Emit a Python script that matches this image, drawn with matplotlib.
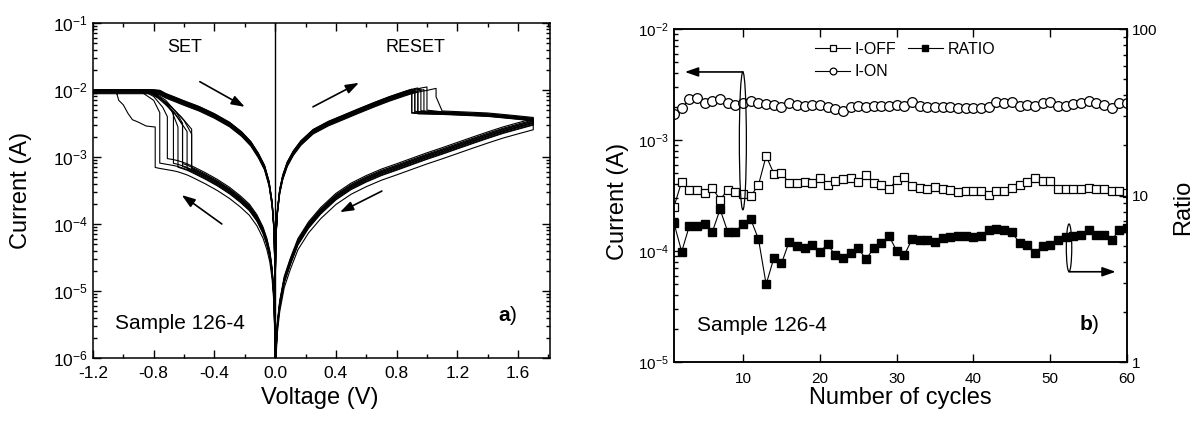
import numpy as np
import matplotlib
matplotlib.use("Agg")
import matplotlib.pyplot as plt
from matplotlib.patches import Ellipse
from matplotlib.ticker import LogLocator, MultipleLocator, NullFormatter, FormatStrFormatter

plt.rcParams['font.family'] = ['Liberation Sans', 'DejaVu Sans']
plt.rcParams['mathtext.fontset'] = 'custom'
plt.rcParams['mathtext.rm'] = 'Liberation Sans'
plt.rcParams['mathtext.it'] = 'Liberation Sans:italic'
plt.rcParams['mathtext.bf'] = 'Liberation Sans:bold'
plt.rcParams['axes.unicode_minus'] = False

# ---------------- panel a: I-V sweeps ----------------
# HRS branch, negative side, 0 -> set voltage
hrs_neg_v = [0.0, -0.001, -0.002, -0.005, -0.01, -0.02, -0.035, -0.055, -0.08, -0.12, -0.17,
             -0.23, -0.30, -0.38, -0.46, -0.52, -0.55, -0.58, -0.61, -0.64, -0.67, -0.71, -0.76, -0.79]
hrs_neg_i = [5e-7, 1.0e-6, 2.0e-6, 5.0e-6, 1.0e-5, 2.0e-5, 3.6e-5, 5.6e-5, 8.2e-5, 1.25e-4, 1.8e-4,
             2.4e-4, 3.2e-4, 4.2e-4, 5.3e-4, 6.2e-4, 6.7e-4, 7.2e-4, 7.6e-4, 8.0e-4, 8.3e-4, 8.6e-4, 9.0e-4, 9.3e-4]
# LRS branch, negative side, -1.2 -> 0 (compliance 10 mA)
lrs_neg_v = [-1.20, -1.00, -0.90, -0.80, -0.76, -0.72, -0.66, -0.60, -0.50, -0.40, -0.30, -0.22,
             -0.16, -0.11, -0.07, -0.04, -0.02, -0.01, -0.005, -0.002, -0.001, 0.0]
lrs_neg_i = [1e-2, 1e-2, 1e-2, 1e-2, 9.6e-3, 8.6e-3, 7.6e-3, 6.7e-3, 5.5e-3, 4.3e-3, 3.2e-3, 2.3e-3,
             1.65e-3, 1.1e-3, 7.3e-4, 4.2e-4, 2.1e-4, 1.05e-4, 5.2e-5, 2.1e-5, 1.05e-5, 5e-7]
# LRS branch, positive side, 0 -> reset voltage
lrs_pos_v = [0.0, 0.0005, 0.001, 0.002, 0.004, 0.008, 0.015, 0.03, 0.05, 0.08, 0.12, 0.17, 0.25,
             0.35, 0.45, 0.55, 0.65, 0.75, 0.85, 0.90, 0.92, 0.94, 0.96, 0.98, 1.00, 1.03, 1.06]
lrs_pos_i = [5e-7, 5.5e-6, 1.1e-5, 2.2e-5, 4.4e-5, 8.8e-5, 1.6e-4, 3.2e-4, 5.2e-4, 8.2e-4, 1.2e-3,
             1.7e-3, 2.5e-3, 3.3e-3, 4.1e-3, 5.1e-3, 6.3e-3, 7.7e-3, 9.2e-3, 1.0e-2, 1.03e-2, 1.05e-2,
             1.08e-2, 1.1e-2, 1.12e-2, 1.16e-2, 1.2e-2]
# after reset up to 1.7 V
tail_v = [1.10, 1.20, 1.30, 1.40, 1.50, 1.60, 1.70]
tail_i = [4.5e-3, 4.4e-3, 4.3e-3, 4.2e-3, 4.0e-3, 3.8e-3, 3.6e-3]
# HRS branch, positive side, 1.7 -> 0
hrs_pos_v = [1.70, 1.60, 1.50, 1.40, 1.30, 1.20, 1.10, 1.00, 0.90, 0.80, 0.70, 0.60, 0.50, 0.40,
             0.30, 0.22, 0.15, 0.10, 0.06, 0.03, 0.015, 0.007, 0.003, 0.0]
hrs_pos_i = [3.4e-3, 2.95e-3, 2.55e-3, 2.15e-3, 1.8e-3, 1.5e-3, 1.25e-3, 1.05e-3, 8.7e-4, 7.2e-4,
             6.0e-4, 4.8e-4, 3.7e-4, 2.6e-4, 1.6e-4, 9.8e-5, 5.5e-5, 2.8e-5, 1.5e-5, 6.5e-6, 3.2e-6,
             1.5e-6, 6e-7, 1e-7]

# per cycle: bundle spread and switching points
lrs_scale = [1.00, 0.97, 0.94, 1.02, 0.90, 0.96, 0.92, 0.99, 0.88, 1.03]
hrs_scale = [1.00, 0.93, 1.05, 0.88, 0.97, 1.10, 0.90, 1.02, 0.75, 0.95]
set_v = [-0.55, -0.58, -0.61, -0.64, -0.67, -0.71, -0.76, -0.55, -0.79, -0.61]
set_path_v = [[-0.55, -0.62, -0.70, -0.80, -0.86],
              [-0.58, -0.64, -0.72, -0.84],
              [-0.61, -0.66, -0.74, -0.85],
              [-0.64, -0.68, -0.75, -0.83],
              [-0.67, -0.70, -0.77, -0.86],
              [-0.71, -0.74, -0.80, -0.88],
              [-0.76, -0.80, -0.90],
              [-0.55, -0.60, -0.68, -0.78, -0.85],
              [-0.79, -0.85, -0.90, -0.94, -0.97, -1.00, -1.03, -1.05],
              [-0.61, -0.65, -0.72, -0.82]]
set_path_i = [[2.6e-3, 4.0e-3, 6.0e-3, 9.0e-3, 1e-2],
              [2.4e-3, 3.8e-3, 6.5e-3, 1e-2],
              [3.0e-3, 4.5e-3, 7.0e-3, 1e-2],
              [2.8e-3, 4.8e-3, 7.2e-3, 1e-2],
              [4.5e-3, 5.5e-3, 7.5e-3, 1e-2],
              [4.0e-3, 5.5e-3, 8.0e-3, 1e-2],
              [4.6e-3, 7.0e-3, 1e-2],
              [2.2e-3, 3.5e-3, 5.5e-3, 8.5e-3, 1e-2],
              [2.8e-3, 2.9e-3, 3.3e-3, 3.6e-3, 4.5e-3, 6.0e-3, 7.0e-3, 1e-2],
              [3.2e-3, 4.6e-3, 7.0e-3, 1e-2]]
reset_v = [0.90, 0.92, 0.92, 0.94, 0.94, 0.96, 0.98, 1.00, 1.06, 0.90]
reset_drop_i = [4.6e-3, 4.8e-3, 4.5e-3, 4.7e-3, 4.4e-3, 4.9e-3, 4.6e-3, 5.0e-3, 7.9e-3, 4.5e-3]
tail_scale = [1.00, 1.03, 0.98, 1.02, 0.96, 1.04, 1.00, 1.05, 1.08, 0.97]

# ---------------- panel b: endurance ----------------
cycles = list(range(1, 61))
i_on = [1.71, 1.94, 2.34, 2.39, 2.17, 2.26, 2.34, 2.14, 2.07, 2.17, 2.26, 2.17, 2.11, 2.07, 2.00,
        2.17, 2.07, 2.02, 2.07, 2.07, 1.98, 1.89, 1.83, 2.00, 2.02, 2.00, 2.02, 2.02, 2.02, 2.07,
        2.04, 2.19, 2.02, 2.00, 2.00, 2.00, 2.00, 1.95, 1.95, 1.95, 1.95, 2.00, 2.21, 2.17, 2.19,
        2.02, 2.07, 2.04, 2.17, 2.21, 2.04, 2.02, 2.11, 2.14, 2.26, 2.14, 2.07, 1.93, 2.14, 2.15]  # mA
i_off = [2.51, 4.21, 3.58, 3.58, 3.30, 3.70, 2.88, 3.58, 3.40, 3.26, 3.13, 3.93, 7.18, 4.99, 5.04,
         4.10, 4.10, 4.19, 4.12, 4.59, 3.93, 4.23, 4.41, 4.52, 4.21, 4.81, 4.12, 3.91, 3.60, 4.36,
         4.67, 3.85, 3.67, 3.60, 3.80, 3.60, 3.55, 3.42, 3.49, 3.49, 3.49, 3.20, 3.49, 3.49, 3.67,
         3.93, 4.21, 4.59, 4.30, 4.30, 3.60, 3.60, 3.60, 3.60, 3.67, 3.60, 3.60, 3.49, 3.49, 3.35]  # x1e-4 A
ratio = [6.81, 4.60, 6.56, 6.56, 6.74, 6.06, 8.26, 6.06, 6.06, 6.74, 7.19, 5.48, 2.93, 4.20, 3.91,
         5.28, 4.97, 4.82, 5.04, 4.60, 5.08, 4.39, 4.20, 4.50, 4.82, 4.14, 4.82, 5.16, 5.71, 4.66,
         4.39, 5.46, 5.40, 5.40, 5.28, 5.58, 5.66, 5.71, 5.71, 5.66, 5.71, 6.21, 6.30, 6.21, 6.06,
         5.16, 5.04, 4.50, 4.97, 5.04, 5.40, 5.61, 5.71, 5.79, 6.21, 5.79, 5.79, 5.40, 6.21, 6.35]


def build_cycle(k):
    n = hrs_neg_v.index(set_v[k])
    v = hrs_neg_v[:n + 1] + set_path_v[k] + [-1.2]
    i = [x * hrs_scale[k] for x in hrs_neg_i[:n + 1]] + set_path_i[k] + [1e-2]
    v += lrs_neg_v
    i += [min(x * lrs_scale[k], 1e-2) for x in lrs_neg_i]
    m = lrs_pos_v.index(reset_v[k])
    v += lrs_pos_v[:m + 1] + [reset_v[k]]
    i += [x * lrs_scale[k] for x in lrs_pos_i[:m + 1]] + [reset_drop_i[k]]
    for tv, ti in zip(tail_v, tail_i):
        if tv > reset_v[k] + 0.02:
            v.append(tv)
            i.append(ti * tail_scale[k])
    v += hrs_pos_v
    i += [x * hrs_scale[k] for x in hrs_pos_i]
    return v, i


fig = plt.figure(figsize=(12.01, 4.24), dpi=100)
axa = fig.add_axes([0.0774, 0.1557, 0.3805, 0.7901])
axb = fig.add_axes([0.5612, 0.1462, 0.3772, 0.7854])

# --- panel a
for k in range(len(set_v)):
    v, i = build_cycle(k)
    axa.plot(v, i, color='black', lw=0.8)
axa.axvline(0.0, color='black', lw=1.0)
axa.set_yscale('log')
axa.set_xlim(-1.2, 1.81)
axa.set_ylim(1e-6, 1e-1)
axa.xaxis.set_major_locator(MultipleLocator(0.4))
axa.xaxis.set_minor_locator(MultipleLocator(0.2))
axa.xaxis.set_major_formatter(FormatStrFormatter('%.1f'))
axa.yaxis.set_major_locator(LogLocator(base=10, numticks=10))
axa.yaxis.set_minor_locator(LogLocator(base=10, subs=np.arange(2, 10), numticks=20))
axa.yaxis.set_minor_formatter(NullFormatter())
axa.tick_params(which='both', direction='in', top=True, right=True, width=1.0, labelsize=12.5)
axa.tick_params(which='major', length=6)
axa.tick_params(which='minor', length=3)
axa.tick_params(axis='x', pad=6)
axa.set_xlabel('Voltage (V)', fontsize=17)
axa.set_ylabel('Current (A)', fontsize=17)
axa.xaxis.set_label_coords(0.497, -0.087)
axa.yaxis.set_label_coords(-0.133, 0.5)

arrow_kw = dict(arrowstyle='-|>,head_length=0.8,head_width=0.28', color='black', lw=1.2,
                shrinkA=0, shrinkB=0)
axa.annotate('', xy=(-0.200, 5.6e-3), xytext=(-0.496, 1.33e-2), arrowprops=arrow_kw)
axa.annotate('', xy=(0.552, 1.28e-2), xytext=(0.249, 5.6e-3), arrowprops=arrow_kw)
axa.annotate('', xy=(-0.615, 2.7e-4), xytext=(-0.351, 1.0e-4), arrowprops=arrow_kw)
axa.annotate('', xy=(0.427, 1.5e-4), xytext=(0.703, 3.1e-4), arrowprops=arrow_kw)

axa.text(0.201, 0.928, 'SET', transform=axa.transAxes, ha='center', va='center', fontsize=13)
axa.text(0.705, 0.928, 'RESET', transform=axa.transAxes, ha='center', va='center', fontsize=13)
axa.text(0.048, 0.104, 'Sample 126-4', transform=axa.transAxes, ha='left', va='center', fontsize=15)
axa.text(0.928, 0.128, r'$\mathbf{a}$)', transform=axa.transAxes, ha='right', va='center', fontsize=15)

# --- panel b
on_a = [x * 1e-3 for x in i_on]
off_a = [x * 1e-4 for x in i_off]
l_off, = axb.plot(cycles, off_a, color='black', lw=0.8, marker='s', ms=6.2,
                  mfc='white', mec='black', mew=0.9, label='I-OFF')
l_on, = axb.plot(cycles, on_a, color='black', lw=0.8, marker='o', ms=7.0,
                 mfc='white', mec='black', mew=0.9, label='I-ON')
axb.set_yscale('log')
axb.set_ylim(1e-5, 1e-2)
axb.set_xlim(1, 60)
axb.set_xticks([10, 20, 30, 40, 50, 60])
axb.yaxis.set_minor_formatter(NullFormatter())
axb.tick_params(which='both', direction='in', top=True, width=1.0, labelsize=11)
axb.tick_params(which='major', length=6)
axb.tick_params(which='minor', length=3)
axb.tick_params(axis='x', pad=7)
axb.set_xlabel('Number of cycles', fontsize=17)
axb.set_ylabel('Current (A)', fontsize=17)
axb.xaxis.set_label_coords(0.5, -0.075)
axb.yaxis.set_label_coords(-0.10, 0.483)

ax2 = axb.twinx()
l_ratio, = ax2.plot(cycles, ratio, color='black', lw=0.8, marker='s', ms=6.2,
                    mfc='black', mec='black', label='RATIO')
ax2.set_yscale('log')
ax2.set_ylim(1, 100)
ax2.set_yticks([1, 10, 100])
ax2.set_yticklabels(['1', '10', '100'])
ax2.yaxis.set_minor_formatter(NullFormatter())
ax2.tick_params(which='both', direction='in', width=1.0, labelsize=11)
ax2.tick_params(which='major', length=6)
ax2.tick_params(which='minor', length=3)
ax2.set_ylabel('Ratio', fontsize=17)
ax2.yaxis.set_label_coords(1.10, 0.465)

ax2.legend(handles=[l_off, l_on, l_ratio], ncol=2, loc='upper left', bbox_to_anchor=(0.29, 0.99),
           frameon=False, fontsize=11.5, handlelength=2.2, handletextpad=0.3, markerscale=0.7,
           columnspacing=0.7, labelspacing=0.45, borderaxespad=0.2)

ax2.add_patch(Ellipse((0.152, 0.664), 0.0155, 0.414, transform=ax2.transAxes,
                      fill=False, ec='black', lw=0.9))
ax2.annotate('', xy=(0.024, 0.871), xytext=(0.152, 0.871), xycoords='axes fraction',
             arrowprops=arrow_kw)
ax2.add_patch(Ellipse((0.872, 0.343), 0.012, 0.143, transform=ax2.transAxes,
                      fill=False, ec='black', lw=0.9))
ax2.annotate('', xy=(0.975, 0.271), xytext=(0.872, 0.271), xycoords='axes fraction',
             arrowprops=arrow_kw)

axb.text(0.051, 0.111, 'Sample 126-4', transform=axb.transAxes, ha='left', va='center', fontsize=15)
axb.text(0.94, 0.114, r'$\mathbf{b}$)', transform=axb.transAxes, ha='right', va='center', fontsize=15)

for ax in (axa, axb, ax2):
    for sp in ax.spines.values():
        sp.set_linewidth(1.1)

fig.savefig('out.png', dpi=100)
